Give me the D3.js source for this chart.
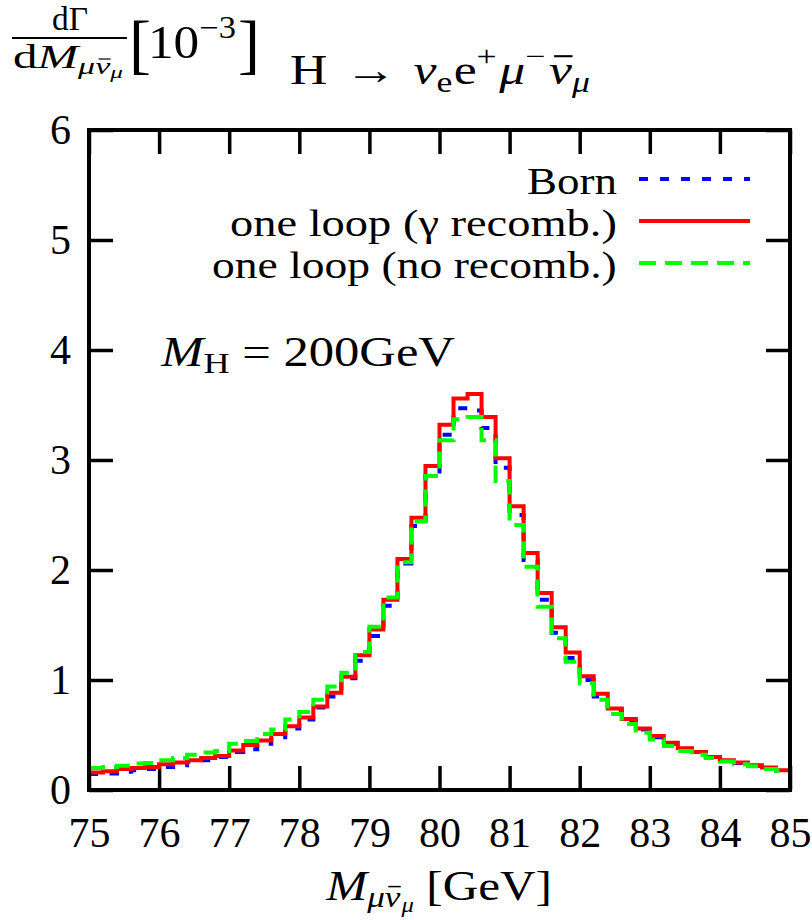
<!DOCTYPE html>
<html>
<head>
<meta charset="utf-8">
<script src="https://cdn.jsdelivr.net/npm/d3@7"></script>
<style>
  html, body { margin: 0; padding: 0; background: #fff; }
  svg text { font-family: "Liberation Serif", "Times New Roman", serif; fill: #000; }
</style>
</head>
<body>
<svg id="chart" width="812" height="920"></svg>
<script>
// ---------- data ----------
const binEdges = [75.0,75.2,75.4,75.6,75.8,76.0,76.2,76.4,76.6,76.8,77.0,77.2,77.4,77.6,77.8,
  78.0,78.2,78.4,78.6,78.8,79.0,79.2,79.4,79.6,79.8,80.0,80.2,80.4,80.6,80.8,
  81.0,81.2,81.4,81.6,81.8,82.0,82.2,82.4,82.6,82.8,83.0,83.2,83.4,83.6,83.8,
  84.0,84.2,84.4,84.6,84.8,85.0];

const born = [0.145,0.150,0.165,0.180,0.190,0.210,0.225,0.260,0.270,0.300,
  0.345,0.370,0.420,0.480,0.560,0.640,0.750,0.850,1.015,1.175,
  1.400,1.675,2.060,2.400,2.855,3.230,3.470,3.450,3.290,2.930,
  2.500,2.090,1.730,1.430,1.200,1.000,0.850,0.730,0.635,0.550,
  0.480,0.420,0.375,0.335,0.295,0.265,0.245,0.220,0.200,0.175];

const loopRecomb = [0.160,0.170,0.190,0.200,0.210,0.235,0.250,0.270,0.290,0.310,
  0.360,0.410,0.450,0.510,0.580,0.660,0.760,0.885,1.030,1.225,
  1.460,1.730,2.100,2.475,2.945,3.320,3.560,3.600,3.390,3.015,
  2.580,2.155,1.790,1.480,1.250,1.035,0.875,0.740,0.645,0.560,
  0.490,0.430,0.380,0.345,0.300,0.270,0.250,0.225,0.205,0.180];

const loopNoRecomb = [0.200,0.210,0.220,0.240,0.245,0.270,0.290,0.320,0.340,0.355,
  0.420,0.445,0.510,0.550,0.640,0.710,0.820,0.940,1.065,1.255,
  1.485,1.750,2.070,2.440,2.855,3.180,3.370,3.390,3.180,2.810,
  2.410,2.030,1.665,1.380,1.165,0.970,0.820,0.690,0.600,0.520,
  0.460,0.400,0.355,0.320,0.290,0.260,0.235,0.215,0.190,0.175];

const xTicks = [75,76,77,78,79,80,81,82,83,84,85];
const yTicks = [0,1,2,3,4,5,6];
const legendLabels = ["Born", "one loop (\u03B3 recomb.)", "one loop (no recomb.)"];

// ---------- setup ----------
const svg = d3.select("#chart");
svg.append("rect").attr("width", 812).attr("height", 920).attr("fill", "#fff");

const L = 89, R = 790, T = 130, B = 790;
const x = d3.scaleLinear().domain([75, 85]).range([L, R]);
const y = d3.scaleLinear().domain([0, 6]).range([B, T]);

const FS = 42;

svg.append("defs").append("clipPath").attr("id", "plotclip")
  .append("rect").attr("x", L).attr("y", T).attr("width", R - L).attr("height", B - T);

// ---------- axes ----------
const gx = svg.append("g").attr("transform", `translate(0,${B})`)
  .call(d3.axisBottom(x).tickValues(xTicks).tickSize(-24).tickPadding(27).tickFormat(d3.format("d")));
const gy = svg.append("g").attr("transform", `translate(${L},0)`)
  .call(d3.axisLeft(y).tickValues(yTicks).tickSize(-24).tickPadding(18).tickFormat(d3.format("d")));
const gt = svg.append("g").attr("transform", `translate(0,${T})`)
  .call(d3.axisTop(x).tickValues(xTicks).tickSize(-24).tickFormat(""));
const gr = svg.append("g").attr("transform", `translate(${R},0)`)
  .call(d3.axisRight(y).tickValues(yTicks).tickSize(-24).tickFormat(""));

[gx, gy, gt, gr].forEach(g => {
  g.select(".domain").remove();
  g.selectAll(".tick line").attr("stroke", "#000").attr("stroke-width", 3.5);
  g.selectAll(".tick text").attr("font-size", FS).attr("font-family", "Liberation Serif").attr("fill", "#000");
});

// ---------- histograms ----------
function stepPoints(vals) {
  const pts = vals.map((v, i) => [binEdges[i], v]);
  pts.push([binEdges[binEdges.length - 1], vals[vals.length - 1]]);
  return pts;
}
const line = d3.line().x(d => x(d[0])).y(d => y(d[1])).curve(d3.curveStepAfter);

const series = [
  { vals: born, color: "#0000ff", dash: "9,12" },
  { vals: loopRecomb, color: "#ff0000", dash: null },
  { vals: loopNoRecomb, color: "#00ff00", dash: "17,9" }
];

const plot = svg.append("g").attr("clip-path", "url(#plotclip)");
series.forEach(s => {
  plot.append("path")
    .datum(stepPoints(s.vals))
    .attr("d", line)
    .attr("fill", "none")
    .attr("stroke", s.color)
    .attr("stroke-width", 4)
    .attr("stroke-linejoin", "miter")
    .attr("stroke-dasharray", s.dash);
});

svg.append("rect").attr("x", L).attr("y", T).attr("width", R - L).attr("height", B - T)
  .attr("fill", "none").attr("stroke", "#000").attr("stroke-width", 4);

// ---------- text helpers ----------
function fitText(sel, left, width) {
  const bb = sel.node().getBBox();
  const s = width / bb.width;
  sel.attr("transform", `translate(${left - s * bb.x},0) scale(${s},1)`);
}
// parts: {t, it, size, off (baseline offset, + = down), dx, bar}
function mathText(y0, parts, size) {
  const g = svg.append("g");
  const t = g.append("text").attr("x", 0).attr("y", y0).attr("font-size", size || FS);
  let cur = 0, idx = 0;
  const bars = [];
  parts.forEach(p => {
    const off = p.off || 0;
    const ts = t.append("tspan").text(p.t)
      .attr("font-size", p.size || size || FS)
      .attr("dy", off - cur);
    if (p.it) ts.attr("font-style", "italic");
    if (p.dx) ts.attr("dx", p.dx);
    if (p.bar) bars.push({ idx: idx, fs: p.size || size || FS });
    cur = off;
    idx += p.t.length;
  });
  bars.forEach(b => {
    const e = t.node().getExtentOfChar(b.idx);
    const by = e.y + e.height * 0.2;
    g.append("line")
      .attr("x1", e.x + e.width * 0.22).attr("x2", e.x + e.width * 1.02)
      .attr("y1", by).attr("y2", by)
      .attr("stroke", "#000").attr("stroke-width", Math.max(1.2, b.fs * 0.05));
  });
  return g;
}

// ---------- legend ----------
const legRows = [194, 236, 278];
const legWidths = [90, 387, 405];
series.forEach((s, i) => {
  const g = svg.append("g");
  g.append("text").attr("x", 0).attr("y", legRows[i])
    .attr("font-size", 38).text(legendLabels[i]);
  fitText(g, 617 - legWidths[i], legWidths[i]);
  svg.append("line").attr("x1", 639).attr("x2", 750)
    .attr("y1", legRows[i] - 15).attr("y2", legRows[i] - 15)
    .attr("stroke", s.color).attr("stroke-width", 4).attr("stroke-dasharray", s.dash);
});

// ---------- title ----------
const title = mathText(84, [
  { t: "H" },
  { t: "\u2192", dx: 14 },
  { t: "\u03BD", it: true, dx: 14 },
  { t: "e", size: 29, off: 8 },
  { t: "e", dx: 1 },
  { t: "+", size: 29, off: -18 },
  { t: "\u03BC", it: true, dx: 2 },
  { t: "\u2212", size: 29, off: -18 },
  { t: "\u03BD", it: true, dx: 3, bar: true },
  { t: "\u03BC", it: true, size: 29, off: 8 }
]);
fitText(title, 290, 300);

// ---------- y-axis label (fraction) ----------
const num = mathText(30, [{ t: "d\u0393" }], 33);
fitText(num, 52, 36);
svg.append("line").attr("x1", 12).attr("x2", 127).attr("y1", 38).attr("y2", 38)
  .attr("stroke", "#000").attr("stroke-width", 1.8);
const den = mathText(68, [
  { t: "d" },
  { t: "M", it: true },
  { t: "\u03BC", it: true, size: 23, off: 6 },
  { t: "\u03BD", it: true, size: 23, off: 6, bar: true },
  { t: "\u03BC", it: true, size: 17, off: 10 }
], 33);
fitText(den, 13, 110);
svg.append("text").attr("x", 129).attr("y", 66).attr("font-size", 66).text("[");
const ten = mathText(58, [
  { t: "10", size: 46 },
  { t: "\u22123", size: 31, off: -20 }
]);
fitText(ten, 148, 88);
svg.append("text").attr("x", 238).attr("y", 66).attr("font-size", 66).text("]");

// ---------- M_H annotation ----------
const mh = mathText(366, [
  { t: "M", it: true },
  { t: "H", size: 30, off: 7 },
  { t: " = 200GeV", off: 0 }
]);
fitText(mh, 160, 295);

// ---------- x-axis label ----------
const xl = mathText(900, [
  { t: "M", it: true },
  { t: "\u03BC", it: true, size: 30, off: 7 },
  { t: "\u03BD", it: true, size: 30, off: 7, bar: true },
  { t: "\u03BC", it: true, size: 21, off: 12, dx: 1 },
  { t: " [GeV]", off: 0 }
]);
fitText(xl, 325, 227);
</script>
</body>
</html>
